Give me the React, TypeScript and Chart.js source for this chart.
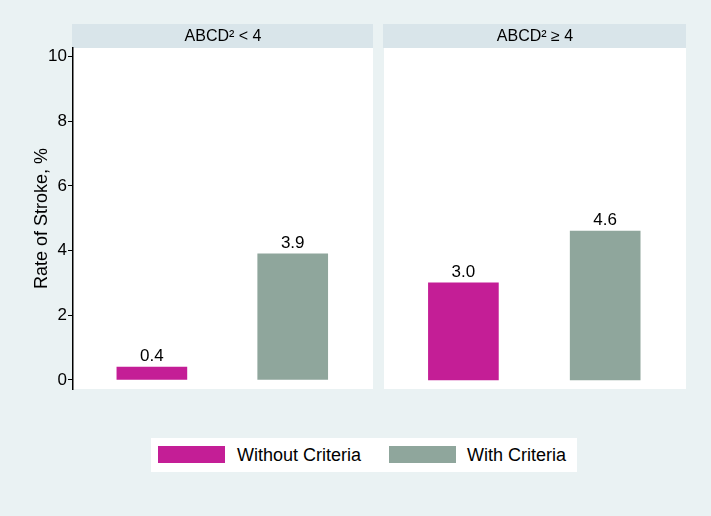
import { useEffect, useRef } from "react";
import { Chart, registerables } from "chart.js";

Chart.register(...registerables);

// ---- data ----
const panelTitles = ["ABCD² < 4", "ABCD² ≥ 4"];
const groups = ["Without Criteria", "With Criteria"];
const lowScoreRates = [0.4, 3.9];
const highScoreRates = [3.0, 4.6];
const yTickValues = [0, 2, 4, 6, 8, 10];
const yTitle = "Rate of Stroke, %";
const groupColors = ["#c41e96", "#8fa69c"];

const FONT = "'Liberation Sans', Arial, Helvetica, sans-serif";
const PAGE_BG = "#eaf2f3";
const HEADER_BG = "#d9e5ea";

const panelPlugin = {
  id: "panelDecor",
  beforeDraw(chart: any) {
    const { ctx, chartArea: ca } = chart;
    const title = chart.options.plugins.panelDecor.title;
    ctx.save();
    ctx.fillStyle = "#ffffff";
    ctx.fillRect(ca.left, ca.top, ca.right - ca.left, ca.bottom - ca.top);
    ctx.fillStyle = HEADER_BG;
    ctx.fillRect(ca.left - 1, ca.top - 24, ca.right - ca.left + 1, 24);
    ctx.fillStyle = "#000";
    ctx.font = `16px ${FONT}`;
    ctx.textAlign = "center";
    ctx.textBaseline = "middle";
    ctx.fillText(title, (ca.left + ca.right) / 2, ca.top - 11);
    ctx.restore();
  },
  afterDatasetsDraw(chart: any) {
    const { ctx } = chart;
    const meta = chart.getDatasetMeta(0);
    const ds = chart.data.datasets[0].data as any[];
    ctx.save();
    ctx.fillStyle = "#000";
    ctx.font = `17px ${FONT}`;
    ctx.textAlign = "center";
    ctx.textBaseline = "alphabetic";
    meta.data.forEach((bar: any, i: number) => {
      ctx.fillText(ds[i].y.toFixed(1), bar.x, bar.y - 6);
    });
    ctx.restore();
  },
};

function makeConfig(values: number[], title: string, showY: boolean, padding: any): any {
  const yScale: any = {
    display: showY,
    min: -0.28,
    max: 10.26,
    afterBuildTicks: (s: any) => {
      s.ticks = yTickValues.map((v) => ({ value: v }));
    },
    grid: {
      drawOnChartArea: false,
      drawTicks: true,
      tickLength: 5,
      color: "#000",
      lineWidth: 1,
    },
    border: { display: true, color: "#000", width: 1.5 },
    ticks: {
      color: "#000",
      padding: 1,
      font: { size: 17, family: FONT },
    },
    title: {
      display: true,
      text: yTitle,
      color: "#000",
      font: { size: 18, family: FONT },
      padding: { top: 31, bottom: 0 },
    },
  };
  if (showY) {
    yScale.afterFit = (s: any) => {
      s.width = 73;
    };
  }
  return {
    type: "bar",
    data: {
      datasets: [
        {
          data: values.map((v, i) => ({ x: i, y: v })),
          backgroundColor: groupColors,
          borderWidth: 0,
          barThickness: 70,
        },
      ],
    },
    options: {
      responsive: false,
      animation: false,
      layout: { padding },
      plugins: {
        legend: { display: false },
        tooltip: { enabled: false },
        panelDecor: { title },
      },
      scales: {
        x: {
          type: "linear",
          offset: false,
          min: -0.56,
          max: 1.57,
          display: false,
        },
        y: yScale,
      },
    },
    plugins: [panelPlugin],
  };
}

export default function App() {
  const leftRef = useRef<HTMLCanvasElement>(null);
  const rightRef = useRef<HTMLCanvasElement>(null);

  useEffect(() => {
    const c1 = new Chart(
      leftRef.current as HTMLCanvasElement,
      makeConfig(lowScoreRates, panelTitles[0], true, { top: 48, bottom: 31, left: 0, right: 0 })
    );
    const c2 = new Chart(
      rightRef.current as HTMLCanvasElement,
      makeConfig(highScoreRates, panelTitles[1], false, { top: 48, bottom: 31, left: 11, right: 25 })
    );
    return () => {
      c1.destroy();
      c2.destroy();
    };
  }, []);

  return (
    <div
      style={{
        position: "fixed",
        left: 0,
        top: 0,
        width: 711,
        height: 516,
        background: PAGE_BG,
        overflow: "hidden",
        fontFamily: FONT,
      }}
    >
      <canvas
        ref={leftRef}
        width={373}
        height={420}
        style={{ position: "absolute", left: 0, top: 0, width: 373, height: 420 }}
      />
      <canvas
        ref={rightRef}
        width={338}
        height={420}
        style={{ position: "absolute", left: 373, top: 0, width: 338, height: 420 }}
      />
      <div
        style={{
          position: "absolute",
          left: 151,
          top: 438,
          width: 426,
          height: 34,
          background: "#ffffff",
        }}
      >
        {groups.map((g, i) => (
          <div key={g}>
            <div
              style={{
                position: "absolute",
                left: i === 0 ? 7 : 238,
                top: 8,
                width: 67,
                height: 17,
                background: groupColors[i],
              }}
            />
            <div
              style={{
                position: "absolute",
                left: i === 0 ? 86 : 316,
                top: 0,
                height: 34,
                lineHeight: "34px",
                fontSize: 18,
                color: "#000",
                whiteSpace: "nowrap",
              }}
            >
              {g}
            </div>
          </div>
        ))}
      </div>
    </div>
  );
}
